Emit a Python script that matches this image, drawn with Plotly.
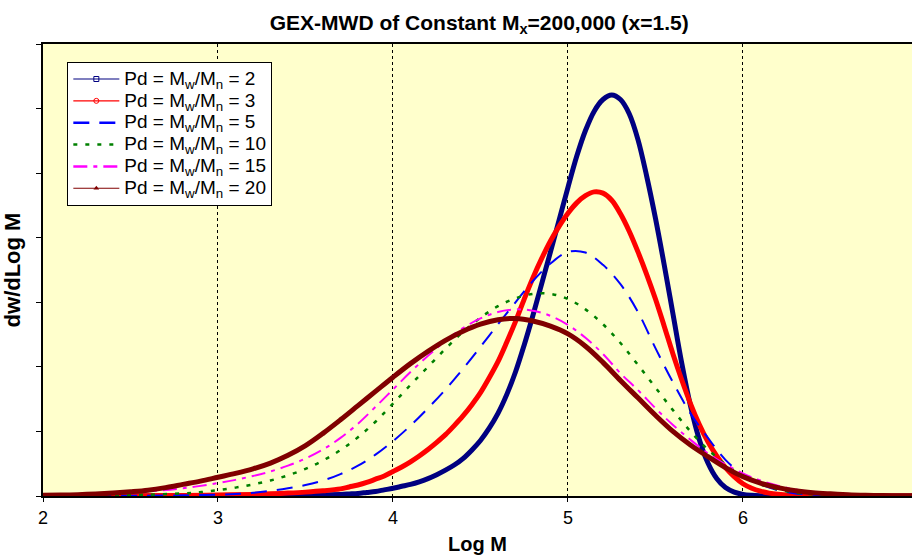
import plotly.graph_objects as go

# ---- data (Log M vs dw/dLog M, arbitrary units) ----
x_pd2 = [2.0, 2.5, 3.0, 3.2, 3.4, 3.5, 3.6, 3.7, 3.75, 3.8, 3.85, 3.9, 3.95, 4.0, 4.05, 4.1, 4.15,
         4.2, 4.25, 4.3, 4.35, 4.4, 4.45, 4.5, 4.55, 4.6, 4.65, 4.7, 4.75, 4.8, 4.85, 4.9, 4.95,
         5.0, 5.05, 5.1, 5.15, 5.2, 5.25, 5.3, 5.35, 5.4, 5.45, 5.5, 5.55, 5.6, 5.65, 5.7, 5.75,
         5.8, 5.85, 5.9, 5.95, 6.0, 6.05, 6.1, 6.2, 6.4, 7.0]
y_pd2 = [0.0, 0.0, 0.001, 0.003, 0.006, 0.01, 0.016, 0.025, 0.032, 0.04, 0.055, 0.07, 0.095, 0.12, 0.15, 0.18, 0.22,
         0.27, 0.33, 0.40, 0.48, 0.58, 0.71, 0.86, 1.05, 1.28, 1.57, 1.92, 2.34, 2.8, 3.29, 3.78, 4.28,
         4.78, 5.26, 5.66, 5.96, 6.14, 6.21, 6.14, 5.92, 5.52, 4.95, 4.3, 3.58, 2.82, 2.06, 1.4, 0.88,
         0.51, 0.27, 0.13, 0.06, 0.025, 0.01, 0.004, 0.001, 0.0, 0.0]

x_pd3 = [2.0, 2.5, 2.8, 3.0, 3.2, 3.3, 3.4, 3.5, 3.6, 3.7, 3.75, 3.8, 3.85, 3.9, 3.95, 4.0, 4.05,
         4.1, 4.15, 4.2, 4.25, 4.3, 4.35, 4.4, 4.45, 4.5, 4.55, 4.6, 4.65, 4.7, 4.75, 4.8, 4.85,
         4.9, 4.95, 5.0, 5.05, 5.1, 5.15, 5.2, 5.25, 5.3, 5.35, 5.4, 5.45, 5.5, 5.55, 5.6, 5.65,
         5.7, 5.75, 5.8, 5.85, 5.9, 5.95, 6.0, 6.05, 6.1, 6.15, 6.2, 6.3, 6.5, 7.0]
y_pd3 = [0.0, 0.003, 0.008, 0.015, 0.025, 0.033, 0.045, 0.06, 0.08, 0.11, 0.14, 0.17, 0.21, 0.26, 0.31, 0.38, 0.45,
         0.53, 0.62, 0.72, 0.83, 0.95, 1.09, 1.24, 1.41, 1.6, 1.83, 2.08, 2.38, 2.7, 3.05, 3.38, 3.68,
         3.95, 4.18, 4.38, 4.54, 4.65, 4.71, 4.69, 4.58, 4.37, 4.1, 3.78, 3.43, 3.05, 2.63, 2.2, 1.8,
         1.43, 1.11, 0.84, 0.62, 0.44, 0.3, 0.19, 0.12, 0.075, 0.045, 0.028, 0.01, 0.002, 0.0]

x_pd5 = [2.0, 2.5, 2.8, 3.0, 3.1, 3.2, 3.3, 3.4, 3.5, 3.6, 3.7, 3.8, 3.9, 4.0, 4.1, 4.2, 4.3, 4.4,
         4.5, 4.6, 4.7, 4.8, 4.9, 5.0, 5.1, 5.2, 5.3, 5.4, 5.5, 5.6, 5.7, 5.8, 5.9, 6.0, 6.1,
         6.2, 6.3, 6.4, 6.5, 7.0]
y_pd5 = [0.0, 0.003, 0.01, 0.02, 0.03, 0.05, 0.08, 0.12, 0.17, 0.24, 0.34, 0.47, 0.64, 0.85, 1.09, 1.36, 1.65, 1.97,
         2.31, 2.66, 3.0, 3.33, 3.6, 3.78, 3.77, 3.58, 3.28, 2.85, 2.29, 1.76, 1.28, 0.9, 0.56, 0.33, 0.18,
         0.09, 0.04, 0.02, 0.01, 0.0]

x_pd10 = [2.0, 2.2, 2.4, 2.6, 2.8, 2.9, 3.0, 3.1, 3.2, 3.3, 3.4, 3.5, 3.6, 3.7, 3.8, 3.9, 4.0,
          4.1, 4.2, 4.3, 4.4, 4.5, 4.6, 4.7, 4.8, 4.9, 5.0, 5.1, 5.2, 5.3, 5.4, 5.5, 5.6, 5.7,
          5.8, 5.9, 6.0, 6.1, 6.2, 6.3, 6.4, 6.6, 7.0]
y_pd10 = [0.002, 0.005, 0.01, 0.02, 0.04, 0.06, 0.09, 0.13, 0.18, 0.24, 0.32, 0.42, 0.55, 0.71, 0.91, 1.15, 1.43,
          1.72, 2.0, 2.28, 2.54, 2.76, 2.94, 3.06, 3.13, 3.13, 3.05, 2.89, 2.66, 2.37, 2.03, 1.68, 1.33, 1.0,
          0.72, 0.49, 0.31, 0.18, 0.1, 0.05, 0.025, 0.006, 0.0]

x_pd15 = [2.0, 2.2, 2.4, 2.6, 2.8, 3.0, 3.1, 3.2, 3.3, 3.4, 3.5, 3.6, 3.7, 3.8, 3.9, 4.0, 4.1, 4.2, 4.3,
          4.4, 4.5, 4.6, 4.7, 4.8, 4.9, 5.0, 5.1, 5.2, 5.3, 5.4, 5.5, 5.6, 5.7, 5.8, 5.9, 6.0,
          6.1, 6.2, 6.3, 6.4, 6.6, 6.8, 7.0]
y_pd15 = [0.01, 0.02, 0.04, 0.07, 0.12, 0.2, 0.25, 0.31, 0.38, 0.47, 0.58, 0.72, 0.9, 1.12, 1.38, 1.65, 1.92, 2.17, 2.4,
          2.6, 2.75, 2.85, 2.89, 2.87, 2.79, 2.65, 2.45, 2.2, 1.9, 1.64, 1.36, 1.1, 0.87, 0.66, 0.49, 0.35,
          0.24, 0.16, 0.1, 0.06, 0.02, 0.008, 0.003]

x_pd20 = [2.0, 2.1, 2.2, 2.3, 2.4, 2.5, 2.6, 2.7, 2.8, 2.9, 3.0, 3.1, 3.2, 3.3, 3.4, 3.5, 3.6,
          3.7, 3.8, 3.9, 4.0, 4.1, 4.2, 4.3, 4.4, 4.5, 4.6, 4.7, 4.8, 4.9, 5.0, 5.1, 5.2, 5.3,
          5.4, 5.5, 5.6, 5.7, 5.8, 5.9, 6.0, 6.1, 6.2, 6.3, 6.4, 6.5, 6.6, 6.7, 6.8, 6.9, 7.0]
y_pd20 = [0.01, 0.015, 0.02, 0.03, 0.045, 0.065, 0.09, 0.13, 0.18, 0.23, 0.29, 0.35, 0.42, 0.51, 0.63, 0.78, 0.97,
          1.18, 1.4, 1.62, 1.84, 2.05, 2.24, 2.41, 2.55, 2.66, 2.73, 2.75, 2.71, 2.63, 2.51, 2.32, 2.07, 1.79,
          1.52, 1.25, 1.0, 0.79, 0.61, 0.44, 0.3, 0.2, 0.13, 0.08, 0.05, 0.033, 0.02, 0.012, 0.007, 0.004, 0.003]

pd_values = [2, 3, 5, 10, 15, 20]
names = ['<span style="font-size:19px">Pd = M<sub>w</sub>/M<sub>n</sub> = %d</span>' % p for p in pd_values]
x_ticks = [2, 3, 4, 5, 6]
title_text = "<b>GEX-MWD of Constant M<sub>x</sub>=200,000 (x=1.5)</b>"

# ---- styles ----
series = [
    (x_pd2, y_pd2, dict(color="#000080", width=5, dash="solid"), dict(symbol="square-open", size=5, color="#000080"), 1.2),
    (x_pd3, y_pd3, dict(color="#FF0000", width=5, dash="solid"), dict(symbol="circle-open", size=5, color="#FF0000"), 1.2),
    (x_pd5, y_pd5, dict(color="#0000FF", width=2, dash="16px,10px"), None, 2.5),
    (x_pd10, y_pd10, dict(color="#008000", width=2.5, dash="4px,8px"), None, 2.5),
    (x_pd15, y_pd15, dict(color="#FF00FF", width=2, dash="14px,6px,4px,6px"), None, 2.5),
    (x_pd20, y_pd20, dict(color="#800000", width=5, dash="solid"), dict(symbol="triangle-up", size=5, color="#800000"), 1.2),
]

fig = go.Figure()
for i, (xs, ys, line, marker, lw) in enumerate(series):
    fig.add_trace(go.Scatter(x=xs, y=ys, mode="lines", line=dict(line, shape="spline", smoothing=1.0),
                             showlegend=False, legendgroup=str(i), hoverinfo="skip"))
    leg_line = dict(line)
    leg_line["width"] = lw
    fig.add_trace(go.Scatter(x=[None], y=[None], mode="lines+markers" if marker else "lines",
                             line=leg_line, marker=marker, name=names[i], legendgroup=str(i)))

fig.update_layout(
    width=912, height=555,
    margin=dict(l=43, r=0, t=44, b=59),
    paper_bgcolor="white",
    plot_bgcolor="#FFFFCC",
    font=dict(family="Arial, Liberation Sans, sans-serif", color="black", size=18),
    title=dict(text=title_text, x=0.502, xref="paper", xanchor="center", y=0.96, yanchor="middle",
               font=dict(size=21)),
    legend=dict(x=0.028, y=0.96, xanchor="left", yanchor="top", bgcolor="white",
                bordercolor="black", borderwidth=1, font=dict(size=14.5), tracegroupgap=0,
                itemwidth=46),
    showlegend=True,
)
fig.update_xaxes(range=[2, 6.966], tickvals=x_ticks, ticktext=[str(t) for t in x_ticks],
                 showgrid=True, gridcolor="black", griddash="dot", gridwidth=1,
                 showline=True, linecolor="black", linewidth=2, mirror=True,
                 ticks="outside", ticklen=4, tickcolor="black", zeroline=False,
                 title=dict(text="<b>Log M</b>", font=dict(size=20), standoff=10),
                 tickfont=dict(size=18))
fig.update_yaxes(range=[0, 7], dtick=1, tick0=0, showticklabels=False, showgrid=False,
                 showline=True, linecolor="black", linewidth=2, mirror=False,
                 ticks="outside", ticklen=5, tickcolor="black", zeroline=False,
                 title=dict(text="<b>dw/dLog M</b>", font=dict(size=22), standoff=9))

fig.write_html("out.html")
